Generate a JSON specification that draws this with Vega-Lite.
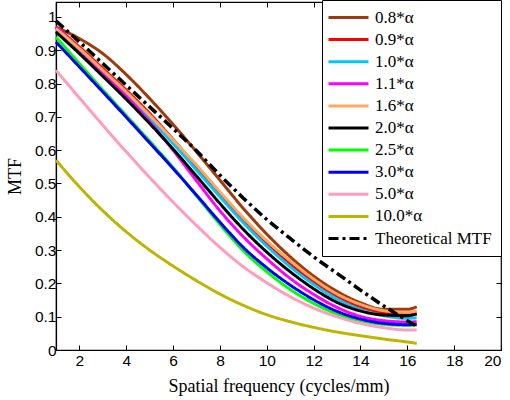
{
  "$schema": "https://vega.github.io/schema/vega-lite/v6.json",
  "width": 445,
  "height": 348,
  "autosize": "none",
  "padding": {"left": 56, "top": 2, "right": 9, "bottom": 50},
  "background": "white",
  "datasets": {
    "curves": [
      {"x":1,"s":"0.8*α","y":0.97},{"x":2,"s":"0.8*α","y":0.935},{"x":3,"s":"0.8*α","y":0.89},{"x":4,"s":"0.8*α","y":0.827},{"x":5,"s":"0.8*α","y":0.755},{"x":6,"s":"0.8*α","y":0.677},{"x":7,"s":"0.8*α","y":0.595},{"x":8,"s":"0.8*α","y":0.51},{"x":9,"s":"0.8*α","y":0.425},{"x":10,"s":"0.8*α","y":0.348},{"x":11,"s":"0.8*α","y":0.28},{"x":12,"s":"0.8*α","y":0.222},{"x":13,"s":"0.8*α","y":0.176},{"x":14,"s":"0.8*α","y":0.142},{"x":15,"s":"0.8*α","y":0.122},{"x":16,"s":"0.8*α","y":0.122},{"x":16.4,"s":"0.8*α","y":0.13},
      {"x":1,"s":"0.9*α","y":0.97},{"x":2,"s":"0.9*α","y":0.91},{"x":3,"s":"0.9*α","y":0.845},{"x":4,"s":"0.9*α","y":0.78},{"x":5,"s":"0.9*α","y":0.71},{"x":6,"s":"0.9*α","y":0.632},{"x":7,"s":"0.9*α","y":0.55},{"x":8,"s":"0.9*α","y":0.467},{"x":9,"s":"0.9*α","y":0.388},{"x":10,"s":"0.9*α","y":0.318},{"x":11,"s":"0.9*α","y":0.258},{"x":12,"s":"0.9*α","y":0.205},{"x":13,"s":"0.9*α","y":0.161},{"x":14,"s":"0.9*α","y":0.129},{"x":15,"s":"0.9*α","y":0.111},{"x":16,"s":"0.9*α","y":0.106},{"x":16.4,"s":"0.9*α","y":0.11},
      {"x":1,"s":"1.0*α","y":0.955},{"x":2,"s":"1.0*α","y":0.895},{"x":3,"s":"1.0*α","y":0.83},{"x":4,"s":"1.0*α","y":0.765},{"x":5,"s":"1.0*α","y":0.695},{"x":6,"s":"1.0*α","y":0.62},{"x":7,"s":"1.0*α","y":0.54},{"x":8,"s":"1.0*α","y":0.46},{"x":9,"s":"1.0*α","y":0.382},{"x":10,"s":"1.0*α","y":0.312},{"x":11,"s":"1.0*α","y":0.25},{"x":12,"s":"1.0*α","y":0.197},{"x":13,"s":"1.0*α","y":0.153},{"x":14,"s":"1.0*α","y":0.122},{"x":15,"s":"1.0*α","y":0.103},{"x":16,"s":"1.0*α","y":0.095},{"x":16.4,"s":"1.0*α","y":0.097},
      {"x":1,"s":"1.1*α","y":0.97},{"x":2,"s":"1.1*α","y":0.903},{"x":3,"s":"1.1*α","y":0.833},{"x":4,"s":"1.1*α","y":0.762},{"x":5,"s":"1.1*α","y":0.686},{"x":6,"s":"1.1*α","y":0.6},{"x":7,"s":"1.1*α","y":0.508},{"x":8,"s":"1.1*α","y":0.418},{"x":9,"s":"1.1*α","y":0.34},{"x":10,"s":"1.1*α","y":0.274},{"x":11,"s":"1.1*α","y":0.215},{"x":12,"s":"1.1*α","y":0.167},{"x":13,"s":"1.1*α","y":0.128},{"x":14,"s":"1.1*α","y":0.101},{"x":15,"s":"1.1*α","y":0.088},{"x":16,"s":"1.1*α","y":0.084},{"x":16.4,"s":"1.1*α","y":0.085},
      {"x":1,"s":"1.6*α","y":0.965},{"x":2,"s":"1.6*α","y":0.905},{"x":3,"s":"1.6*α","y":0.84},{"x":4,"s":"1.6*α","y":0.775},{"x":5,"s":"1.6*α","y":0.705},{"x":6,"s":"1.6*α","y":0.631},{"x":7,"s":"1.6*α","y":0.555},{"x":8,"s":"1.6*α","y":0.475},{"x":9,"s":"1.6*α","y":0.397},{"x":10,"s":"1.6*α","y":0.328},{"x":11,"s":"1.6*α","y":0.268},{"x":12,"s":"1.6*α","y":0.213},{"x":13,"s":"1.6*α","y":0.168},{"x":14,"s":"1.6*α","y":0.137},{"x":15,"s":"1.6*α","y":0.118},{"x":16,"s":"1.6*α","y":0.113},{"x":16.4,"s":"1.6*α","y":0.118},
      {"x":1,"s":"2.0*α","y":0.955},{"x":2,"s":"2.0*α","y":0.89},{"x":3,"s":"2.0*α","y":0.822},{"x":4,"s":"2.0*α","y":0.753},{"x":5,"s":"2.0*α","y":0.68},{"x":6,"s":"2.0*α","y":0.603},{"x":7,"s":"2.0*α","y":0.522},{"x":8,"s":"2.0*α","y":0.44},{"x":9,"s":"2.0*α","y":0.362},{"x":10,"s":"2.0*α","y":0.294},{"x":11,"s":"2.0*α","y":0.235},{"x":12,"s":"2.0*α","y":0.184},{"x":13,"s":"2.0*α","y":0.143},{"x":14,"s":"2.0*α","y":0.117},{"x":15,"s":"2.0*α","y":0.105},{"x":16,"s":"2.0*α","y":0.103},{"x":16.4,"s":"2.0*α","y":0.108},
      {"x":1,"s":"2.5*α","y":0.94},{"x":2,"s":"2.5*α","y":0.86},{"x":3,"s":"2.5*α","y":0.781},{"x":4,"s":"2.5*α","y":0.704},{"x":5,"s":"2.5*α","y":0.627},{"x":6,"s":"2.5*α","y":0.548},{"x":7,"s":"2.5*α","y":0.463},{"x":8,"s":"2.5*α","y":0.377},{"x":9,"s":"2.5*α","y":0.298},{"x":10,"s":"2.5*α","y":0.235},{"x":11,"s":"2.5*α","y":0.182},{"x":12,"s":"2.5*α","y":0.14},{"x":13,"s":"2.5*α","y":0.108},{"x":14,"s":"2.5*α","y":0.088},{"x":15,"s":"2.5*α","y":0.077},{"x":16,"s":"2.5*α","y":0.074},{"x":16.4,"s":"2.5*α","y":0.075},
      {"x":1,"s":"3.0*α","y":0.925},{"x":2,"s":"3.0*α","y":0.85},{"x":3,"s":"3.0*α","y":0.775},{"x":4,"s":"3.0*α","y":0.699},{"x":5,"s":"3.0*α","y":0.622},{"x":6,"s":"3.0*α","y":0.545},{"x":7,"s":"3.0*α","y":0.465},{"x":8,"s":"3.0*α","y":0.384},{"x":9,"s":"3.0*α","y":0.308},{"x":10,"s":"3.0*α","y":0.247},{"x":11,"s":"3.0*α","y":0.195},{"x":12,"s":"3.0*α","y":0.151},{"x":13,"s":"3.0*α","y":0.116},{"x":14,"s":"3.0*α","y":0.093},{"x":15,"s":"3.0*α","y":0.08},{"x":16,"s":"3.0*α","y":0.076},{"x":16.4,"s":"3.0*α","y":0.077},
      {"x":1,"s":"5.0*α","y":0.84},{"x":2,"s":"5.0*α","y":0.757},{"x":3,"s":"5.0*α","y":0.675},{"x":4,"s":"5.0*α","y":0.595},{"x":5,"s":"5.0*α","y":0.518},{"x":6,"s":"5.0*α","y":0.444},{"x":7,"s":"5.0*α","y":0.374},{"x":8,"s":"5.0*α","y":0.308},{"x":9,"s":"5.0*α","y":0.25},{"x":10,"s":"5.0*α","y":0.202},{"x":11,"s":"5.0*α","y":0.16},{"x":12,"s":"5.0*α","y":0.126},{"x":13,"s":"5.0*α","y":0.1},{"x":14,"s":"5.0*α","y":0.08},{"x":15,"s":"5.0*α","y":0.067},{"x":16,"s":"5.0*α","y":0.06},{"x":16.4,"s":"5.0*α","y":0.06},
      {"x":1,"s":"10.0*α","y":0.57},{"x":2,"s":"10.0*α","y":0.49},{"x":3,"s":"10.0*α","y":0.418},{"x":4,"s":"10.0*α","y":0.355},{"x":5,"s":"10.0*α","y":0.3},{"x":6,"s":"10.0*α","y":0.252},{"x":7,"s":"10.0*α","y":0.208},{"x":8,"s":"10.0*α","y":0.168},{"x":9,"s":"10.0*α","y":0.134},{"x":10,"s":"10.0*α","y":0.106},{"x":11,"s":"10.0*α","y":0.085},{"x":12,"s":"10.0*α","y":0.068},{"x":13,"s":"10.0*α","y":0.054},{"x":14,"s":"10.0*α","y":0.043},{"x":15,"s":"10.0*α","y":0.033},{"x":16,"s":"10.0*α","y":0.024},{"x":16.4,"s":"10.0*α","y":0.02}
    ],
    "theory": [
      {"x":1,"s":"Theoretical MTF","y":0.988},{"x":2,"s":"Theoretical MTF","y":0.925},{"x":3,"s":"Theoretical MTF","y":0.86},{"x":4,"s":"Theoretical MTF","y":0.795},{"x":5,"s":"Theoretical MTF","y":0.73},{"x":6,"s":"Theoretical MTF","y":0.665},{"x":7,"s":"Theoretical MTF","y":0.598},{"x":8,"s":"Theoretical MTF","y":0.525},{"x":9,"s":"Theoretical MTF","y":0.456},{"x":10,"s":"Theoretical MTF","y":0.392},{"x":11,"s":"Theoretical MTF","y":0.335},{"x":12,"s":"Theoretical MTF","y":0.28},{"x":13,"s":"Theoretical MTF","y":0.23},{"x":14,"s":"Theoretical MTF","y":0.18},{"x":15,"s":"Theoretical MTF","y":0.132},{"x":15.5,"s":"Theoretical MTF","y":0.11},{"x":16,"s":"Theoretical MTF","y":0.088},{"x":16.4,"s":"Theoretical MTF","y":0.072}
    ]
  },
  "config": {
    "view": {"stroke": "black", "strokeWidth": 1.2},
    "axis": {
      "grid": false,
      "domainColor": "black",
      "domainWidth": 1.2,
      "tickColor": "black",
      "tickSize": -5,
      "tickWidth": 1,
      "labelFont": "Liberation Sans",
      "labelFontSize": 15.5,
      "labelColor": "black",
      "titleFont": "Liberation Serif",
      "titleFontSize": 18,
      "titleFontWeight": "normal",
      "titleColor": "black"
    },
    "legend": {
      "orient": "none",
      "legendX": 266,
      "legendY": -2,
      "symbolType": "M-4,0L4,0",
      "symbolSize": 100,
      "symbolStrokeWidth": 3,
      "symbolOffset": 9,
      "labelOffset": 18,
      "labelFont": "Liberation Serif",
      "labelFontSize": 17,
      "labelColor": "black",
      "labelLimit": 300,
      "padding": 9,
      "rowPadding": 4.1,
      "strokeColor": "black",
      "fillColor": "white"
    }
  },
  "layer": [
    {
      "data": {"name": "curves"},
      "mark": {"type": "line", "strokeWidth": 3, "interpolate": "monotone"},
      "encoding": {
        "x": {"field": "x", "type": "quantitative", "scale": {"domain": [1, 20], "nice": false}, "axis": {"orient": "bottom", "values": [2,4,6,8,10,12,14,16,18,20], "title": "Spatial frequency (cycles/mm)", "labelPadding": 8, "titlePadding": 9}},
        "y": {"field": "y", "type": "quantitative", "scale": {"domain": [0, 1.045], "nice": false}, "axis": {"orient": "left", "values": [0,0.1,0.2,0.3,0.4,0.5,0.6,0.7,0.8,0.9,1], "format": "~g", "title": "MTF", "labelPadding": 5, "titlePadding": 10}},
        "color": {"field": "s", "type": "nominal", "sort": null, "legend": {"title": null},
          "scale": {"domain": ["0.8*α","0.9*α","1.0*α","1.1*α","1.6*α","2.0*α","2.5*α","3.0*α","5.0*α","10.0*α","Theoretical MTF"],
                    "range": ["#9E3A0C","#FF0000","#00C8FF","#FF00FF","#FFA860","#000000","#00FF00","#0000FF","#FF9CC0","#BDB500","#000000"]}},
        "strokeDash": {"field": "s", "type": "nominal", "sort": null, "legend": {"title": null},
          "scale": {"domain": ["0.8*α","0.9*α","1.0*α","1.1*α","1.6*α","2.0*α","2.5*α","3.0*α","5.0*α","10.0*α","Theoretical MTF"],
                    "range": [[1,0],[1,0],[1,0],[1,0],[1,0],[1,0],[1,0],[1,0],[1,0],[1,0],[10,4,3,4]]}}
      }
    },
    {
      "data": {"name": "theory"},
      "mark": {"type": "line", "strokeWidth": 3.5, "interpolate": "monotone"},
      "encoding": {
        "x": {"field": "x", "type": "quantitative", "axis": null},
        "y": {"field": "y", "type": "quantitative", "axis": null},
        "color": {"field": "s", "type": "nominal", "sort": null, "legend": {"title": null}},
        "strokeDash": {"field": "s", "type": "nominal", "sort": null, "legend": {"title": null}}
      }
    },
    {
      "data": {"name": "theory"},
      "mark": {"type": "point", "opacity": 0},
      "encoding": {
        "x": {"field": "x", "type": "quantitative", "axis": {"orient": "top", "values": [2,4,6,8,10,12,14,16,18,20], "labels": false, "title": null, "domain": false}},
        "y": {"field": "y", "type": "quantitative", "axis": {"orient": "right", "values": [0,0.1,0.2,0.3,0.4,0.5,0.6,0.7,0.8,0.9,1], "labels": false, "title": null, "domain": false}}
      }
    }
  ],
  "resolve": {"axis": {"x": "independent", "y": "independent"}}
}
